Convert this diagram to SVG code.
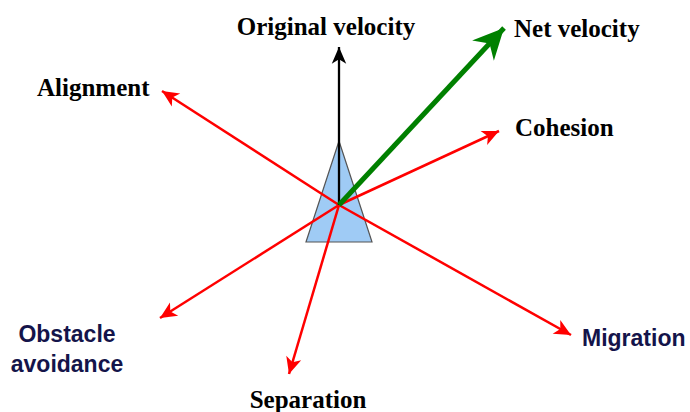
<svg xmlns="http://www.w3.org/2000/svg" width="690" height="412" viewBox="0 0 690 412">
<style>
.serif{font-family:"Liberation Serif","Times New Roman",serif;font-weight:bold;font-size:25px;fill:#000}
.sans{font-family:"Liberation Sans",Arial,sans-serif;font-weight:bold;font-size:23px;fill:#14144a}
.red{stroke:#ff0000;stroke-width:2.5;fill:none;marker-end:url(#ar)}
</style>
<defs>
<marker id="ar" markerUnits="userSpaceOnUse" markerWidth="20" markerHeight="20" viewBox="-16 -8 18 16" refX="0" refY="0" orient="auto">
<path d="M0,0 L-15,-7 L-11,0 L-15,7 Z" fill="#ff0000"/>
</marker>
<marker id="ak" markerUnits="userSpaceOnUse" markerWidth="20" markerHeight="20" viewBox="-16 -8 18 16" refX="0" refY="0" orient="auto">
<path d="M0,0 L-15,-6.5 L-11,0 L-15,6.5 Z" fill="#000"/>
</marker>
<marker id="ag" markerUnits="userSpaceOnUse" markerWidth="34" markerHeight="34" viewBox="-30 -16 32 32" refX="0" refY="0" orient="auto">
<path d="M0,0 L-29,-14 L-20,0 L-29,14 Z" fill="#008000"/>
</marker>
</defs>
<rect width="690" height="412" fill="#fff"/>
<g id="boid">
<polygon points="339,141 306,242 372,242" fill="#9fcbf5" stroke="#555" stroke-width="1.2"/>
</g>
<g id="connectors">
<line class="red" x1="339" y1="205" x2="162" y2="91"/>
<line class="red" x1="339" y1="205" x2="499" y2="131"/>
<line class="red" x1="339" y1="205" x2="160" y2="318"/>
<line class="red" x1="339" y1="205" x2="571" y2="335"/>
<line class="red" x1="339" y1="205" x2="289" y2="374"/>
<line x1="339" y1="205" x2="339" y2="47" stroke="#000" stroke-width="2.3" marker-end="url(#ak)"/>
<line x1="339" y1="205" x2="504" y2="28" stroke="#008000" stroke-width="5" marker-end="url(#ag)"/>
</g>
<g id="label-original"><text class="serif" x="326" y="35" text-anchor="middle">Original velocity</text></g>
<g id="label-net"><text class="serif" x="514" y="37">Net velocity</text></g>
<g id="label-alignment"><text class="serif" x="37" y="96">Alignment</text></g>
<g id="label-cohesion"><text class="serif" x="515" y="136">Cohesion</text></g>
<g id="label-separation"><text class="serif" x="308" y="408" text-anchor="middle">Separation</text></g>
<g id="label-obstacle"><text class="sans" x="67" y="342" text-anchor="middle">Obstacle</text><text class="sans" x="67" y="372" text-anchor="middle">avoidance</text></g>
<g id="label-migration"><text class="sans" x="582" y="346">Migration</text></g>
</svg>
